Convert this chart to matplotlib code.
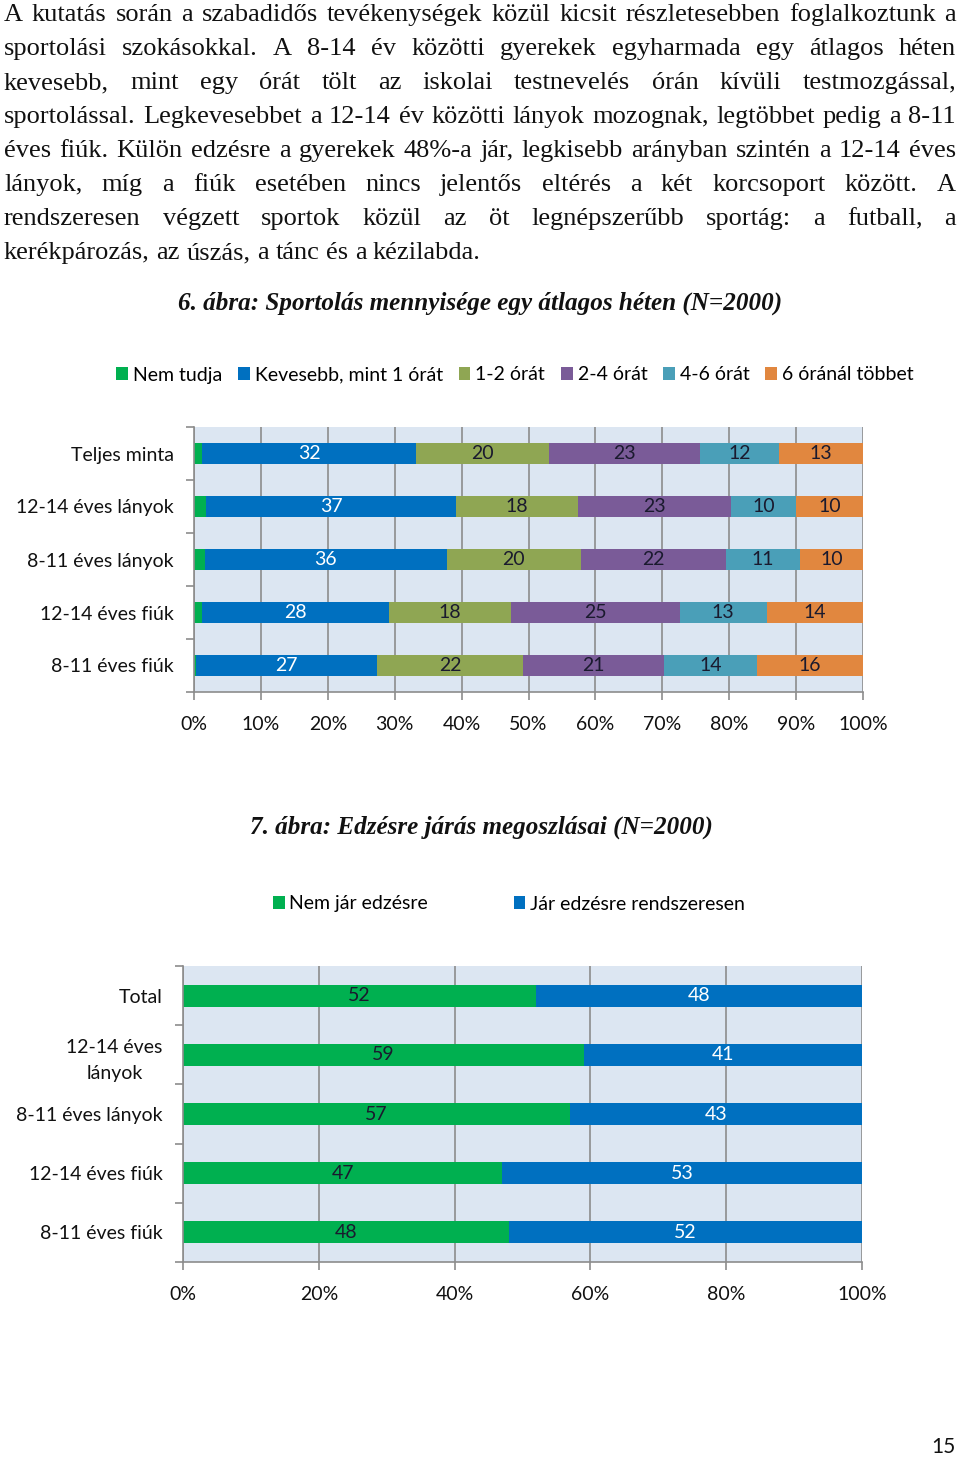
import matplotlib
matplotlib.use("Agg")
import matplotlib.pyplot as plt
import numpy as np

# ---------------- data ----------------
paragraph_lines = [
    "A kutatás során a szabadidős tevékenységek közül kicsit részletesebben foglalkoztunk a",
    "sportolási szokásokkal. A 8-14 év közötti gyerekek egyharmada egy átlagos héten",
    "kevesebb, mint egy órát tölt az iskolai testnevelés órán kívüli testmozgással,",
    "sportolással. Legkevesebbet a 12-14 év közötti lányok mozognak, legtöbbet pedig a 8-11",
    "éves fiúk. Külön edzésre a gyerekek 48%-a jár, legkisebb arányban szintén a 12-14 éves",
    "lányok, míg a fiúk esetében nincs jelentős eltérés a két korcsoport között. A",
    "rendszeresen végzett sportok közül az öt legnépszerűbb sportág: a futball, a",
    "kerékpározás, az úszás, a tánc és a kézilabda.",
]
title1 = "6. ábra: Sportolás mennyisége egy átlagos héten (N=2000)"
title2 = "7. ábra: Edzésre járás megoszlásai (N=2000)"

cats1 = ["Teljes minta", "12-14 éves lányok", "8-11 éves lányok", "12-14 éves fiúk", "8-11 éves fiúk"]
series1 = ["Nem tudja", "Kevesebb, mint 1 órát", "1-2 órát", "2-4 órát", "4-6 órát", "6 óránál többet"]
nem_tudja = [1.2, 1.8, 1.6, 1.2, 0.3]
kevesebb = [32.0, 37.4, 36.2, 27.9, 27.1]
ora_1_2 = [19.8, 18.2, 20.0, 18.3, 21.8]
ora_2_4 = [22.6, 22.8, 21.7, 25.2, 21.1]
ora_4_6 = [11.9, 9.8, 11.1, 13.0, 13.9]
ora_6p = [12.5, 10.0, 9.6, 14.4, 15.8]
labels1 = [[None, 32, 20, 23, 12, 13],
           [None, 37, 18, 23, 10, 10],
           [None, 36, 20, 22, 11, 10],
           [None, 28, 18, 25, 13, 14],
           [None, 27, 22, 21, 14, 16]]
colors1 = ["#00B050", "#0070C0", "#8FA653", "#7A5B98", "#4A9FB8", "#E1873F"]
labcol1 = [None, "white", "#1a1a2e", "#1a1a2e", "#1a1a2e", "#1a1a2e"]
ticks1 = [0, 10, 20, 30, 40, 50, 60, 70, 80, 90, 100]

cats2 = ["Total", "12-14 éves\nlányok", "8-11 éves lányok", "12-14 éves fiúk", "8-11 éves fiúk"]
series2 = ["Nem jár edzésre", "Jár edzésre rendszeresen"]
nem_jar = [52, 59, 57, 47, 48]
jar = [48, 41, 43, 53, 52]
colors2 = ["#00B050", "#0070C0"]
labcol2 = ["#1a1a2e", "white"]
ticks2 = [0, 20, 40, 60, 80, 100]

page_number = "15"

# ---------------- figure ----------------
W, H = 960, 1460
fig = plt.figure(figsize=(W / 100, H / 100), dpi=100)
fig.patch.set_facecolor("white")

SANS = ["Lato", "DejaVu Sans"]
SERIF = ["Liberation Serif", "DejaVu Serif"]
BG = "#DCE6F2"
GRID = "#8C8C8C"


def fx(px):
    return px / W


def fy(py):
    return 1 - py / H


renderer = fig.canvas.get_renderer()

# justified paragraph
body_size = 19.0
left_px, right_px = 4, 956
base0, line_gap = 21, 34
for i, line in enumerate(paragraph_lines):
    words = line.split(" ")
    yb = base0 + i * line_gap
    last = (i == len(paragraph_lines) - 1)
    texts = []
    widths = []
    for w in words:
        t = fig.text(0, fy(yb), w, fontsize=body_size, family=SERIF, va="baseline", ha="left", color="#111111")
        bb = t.get_window_extent(renderer)
        texts.append(t)
        widths.append(bb.width)
    t_a = fig.text(0, 0, "a a", fontsize=body_size, family=SERIF)
    t_b = fig.text(0, 0, "aa", fontsize=body_size, family=SERIF)
    nat_gap = t_a.get_window_extent(renderer).width - t_b.get_window_extent(renderer).width
    t_a.remove()
    t_b.remove()
    if last:
        gap = nat_gap
    else:
        gap = max((right_px - left_px - sum(widths)) / (len(words) - 1), 2.0)
    x = left_px
    for t, wd in zip(texts, widths):
        t.set_x(fx(x))
        x += wd + gap

# titles
fig.text(fx(480), fy(303), title1, fontsize=18.1, family=SERIF, style="italic", weight="bold",
         ha="center", va="center", color="#111111")
fig.text(fx(481), fy(827), title2, fontsize=18.1, family=SERIF, style="italic", weight="bold",
         ha="center", va="center", color="#111111")


def style_axes(ax, ticks):
    ax.set_facecolor(BG)
    ax.set_xlim(0, 100)
    ax.set_xticks(ticks)
    ax.set_xticklabels([f"{t}%" for t in ticks], fontsize=14, family=SANS, color="#111111")
    ax.xaxis.grid(True, color=GRID, linewidth=1.2)
    ax.set_axisbelow(True)
    for s in ["top", "right"]:
        ax.spines[s].set_visible(False)
    for s in ["left", "bottom"]:
        ax.spines[s].set_color(GRID)
        ax.spines[s].set_linewidth(1.2)
    ax.tick_params(axis="x", length=6, color=GRID, pad=11, width=1.2)
    ax.tick_params(axis="y", which="major", length=0, pad=14.5)
    ax.tick_params(axis="y", which="minor", length=6, color=GRID, width=1.2)


# ---------------- chart 1 ----------------
ax1 = fig.add_axes([fx(194), fy(692), fx(863 - 194), (692 - 427) / H])
data1 = np.array([nem_tudja, kevesebb, ora_1_2, ora_2_4, ora_4_6, ora_6p])
y1 = np.arange(len(cats1))
left = np.zeros(len(cats1))
handles1 = []
for j in range(len(series1)):
    b = ax1.barh(y1, data1[j], left=left, height=0.4, color=colors1[j], label=series1[j])
    handles1.append(b)
    for i in range(len(cats1)):
        lab = labels1[i][j]
        if lab is not None:
            ax1.text(left[i] + data1[j][i] / 2, y1[i], str(lab), ha="center", va="center",
                     fontsize=14, family=SANS, color=labcol1[j])
    left += data1[j]
ax1.set_ylim(len(cats1) - 0.5, -0.5)
ax1.set_yticks(y1)
ax1.set_yticklabels(cats1, fontsize=14, family=SANS, color="#111111")
ax1.set_yticks(np.arange(-0.5, len(cats1) + 0.5, 1), minor=True)
style_axes(ax1, ticks1)

fig.legend(handles1, series1, loc="center", bbox_to_anchor=(fx(515), fy(375)), ncol=6,
           frameon=False, prop={"family": SANS, "size": 14}, handlelength=0.6, handleheight=0.6,
           handletextpad=0.25, columnspacing=0.82)

# ---------------- chart 2 ----------------
ax2 = fig.add_axes([fx(183), fy(1262), fx(862 - 183), (1262 - 966) / H])
data2 = np.array([nem_jar, jar])
y2 = np.arange(len(cats2))
left = np.zeros(len(cats2))
handles2 = []
for j in range(len(series2)):
    b = ax2.barh(y2, data2[j], left=left, height=0.37, color=colors2[j], label=series2[j])
    handles2.append(b)
    for i in range(len(cats2)):
        ax2.text(left[i] + data2[j][i] / 2, y2[i], str(data2[j][i]), ha="center", va="center",
                 fontsize=14, family=SANS, color=labcol2[j])
    left += data2[j]
ax2.set_ylim(len(cats2) - 0.5, -0.5)
ax2.set_yticks(y2)
ax2.set_yticklabels(cats2, fontsize=14, family=SANS, color="#111111", linespacing=1.65,
                    multialignment="center")
ax2.set_yticks(np.arange(-0.5, len(cats2) + 0.5, 1), minor=True)
style_axes(ax2, ticks2)

fig.legend(handles2, series2, loc="center", bbox_to_anchor=(fx(509), fy(904)), ncol=2,
           frameon=False, prop={"family": SANS, "size": 14}, handlelength=0.6, handleheight=0.6,
           handletextpad=0.25, columnspacing=4.4)

fig.text(fx(956), fy(1447), page_number, fontsize=15, family=SANS, ha="right", va="center", color="#111111")

fig.savefig("out.png", dpi=100)
